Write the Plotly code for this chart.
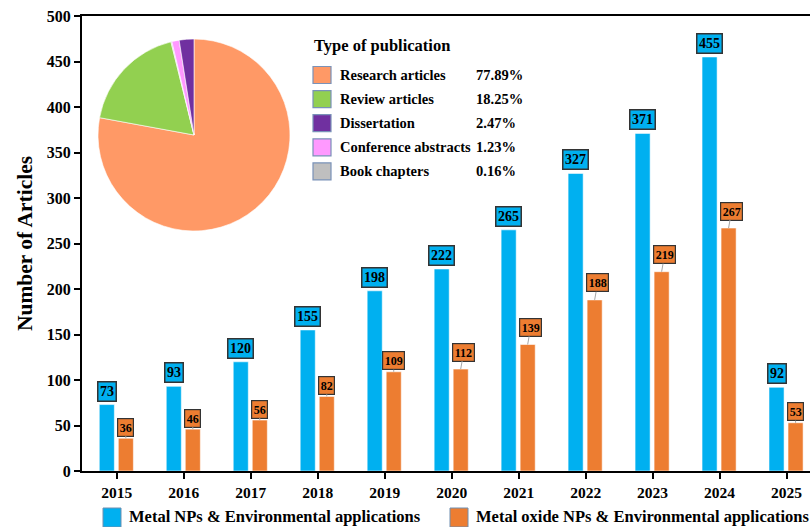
import plotly.graph_objects as go

# ---------------- data ----------------
years = ["2015", "2016", "2017", "2018", "2019", "2020", "2021", "2022", "2023", "2024", "2025"]
metal_np = [73, 93, 120, 155, 198, 222, 265, 327, 371, 455, 92]
metal_oxide_np = [36, 46, 56, 82, 109, 112, 139, 188, 219, 267, 53]
series_names = ["Metal NPs & Environmental applications",
                "Metal oxide NPs & Environmental applications"]

pub_types = ["Research articles", "Review articles", "Dissertation",
             "Conference abstracts", "Book chapters"]
pub_pct = [77.89, 18.25, 2.47, 1.23, 0.16]

y_ticks = [0, 50, 100, 150, 200, 250, 300, 350, 400, 450, 500]

# ---------------- styling ----------------
SERIF = "Liberation Serif, Times New Roman, serif"
BLUE = "#00B0F0"
ORANGE = "#ED7D31"
pie_colors = {"Research articles": "#FF9966", "Review articles": "#92D050",
              "Dissertation": "#7030A0", "Conference abstracts": "#FF99FF",
              "Book chapters": "#BFBFBF"}
pie_draw_order = ["Research articles", "Review articles", "Book chapters",
                  "Conference abstracts", "Dissertation"]

W, H = 810, 527
ML, MR, MT, MB = 82, 0, 16, 56
PW, PH = W - ML - MR, H - MT - MB


def px_x(p):
    return (p - ML) / PW


def px_y(p):
    return (H - MB - p) / PH


BAR_W = 0.225
BLUE_OFF = -0.262
ORANGE_OFF = 0.022

fig = go.Figure()

fig.add_trace(go.Bar(
    x=years, y=metal_np, name=series_names[0], width=BAR_W, offset=BLUE_OFF,
    marker=dict(color=BLUE, line=dict(color="rgba(255,255,255,0.55)", width=1)),
    showlegend=False))
fig.add_trace(go.Bar(
    x=years, y=metal_oxide_np, name=series_names[1], width=BAR_W, offset=ORANGE_OFF,
    marker=dict(color=ORANGE, line=dict(color="rgba(255,255,255,0.55)", width=1)),
    showlegend=False))

# pie inset
pie_labels = pie_draw_order
pie_values = [pub_pct[pub_types.index(l)] for l in pie_labels]
fig.add_trace(go.Pie(
    labels=pie_labels, values=pie_values, sort=False, direction="clockwise",
    rotation=0, textinfo="none", hoverinfo="label+percent",
    marker=dict(colors=[pie_colors[l] for l in pie_labels],
                line=dict(color="white", width=0.6)),
    domain=dict(x=[px_x(98), px_x(290)], y=[px_y(231), px_y(39)]),
    showlegend=False))

annotations = []
# value labels
for i, (a, b) in enumerate(zip(metal_np, metal_oxide_np)):
    annotations.append(dict(
        x=i + BLUE_OFF + BAR_W / 2, y=a, xref="x", yref="y", text=str(a),
        showarrow=False, yanchor="bottom", yshift=3,
        bgcolor=BLUE, bordercolor="#333333", borderwidth=1.5, borderpad=1.5,
        font=dict(family=SERIF, size=14, color="black", weight="bold")))
    leader = 2020 <= int(years[i]) <= 2024
    annotations.append(dict(
        x=i + ORANGE_OFF + BAR_W / 2, y=b, xref="x", yref="y", text=str(b),
        showarrow=True, arrowhead=0, arrowwidth=1, arrowcolor="#A6A6A6",
        ax=3 if leader else 0, ay=-17 if leader else -11,
        bgcolor=ORANGE, bordercolor="#333333", borderwidth=1.2, borderpad=1.5,
        font=dict(family=SERIF, size=12, color="black", weight="bold")))

shapes = []
# pie legend (Type of publication)
annotations.append(dict(
    x=px_x(312), y=px_y(46), xref="paper", yref="paper", text="Type of publication",
    showarrow=False, xanchor="left", yanchor="middle",
    font=dict(family=SERIF, size=16.5, color="black", weight="bold")))
for k, (lab, pct) in enumerate(zip(pub_types, pub_pct)):
    cy = 75 + k * 24.1
    shapes.append(dict(type="rect", xref="paper", yref="paper",
                       x0=px_x(313), x1=px_x(331), y0=px_y(cy + 8.5), y1=px_y(cy - 8.5),
                       fillcolor=pie_colors[lab], line=dict(color="#7A92B8", width=1.2)))
    annotations.append(dict(
        x=px_x(338), y=px_y(cy), xref="paper", yref="paper", text=lab,
        showarrow=False, xanchor="left", yanchor="middle",
        font=dict(family=SERIF, size=14.5, color="black", weight="bold")))
    annotations.append(dict(
        x=px_x(474), y=px_y(cy), xref="paper", yref="paper", text=f"{pct:.2f}%",
        showarrow=False, xanchor="left", yanchor="middle",
        font=dict(family=SERIF, size=14.5, color="black", weight="bold")))

# bar legend (bottom)
for (sx, tx, col, name) in [(103, 127, BLUE, series_names[0]),
                            (450, 474, ORANGE, series_names[1])]:
    shapes.append(dict(type="rect", xref="paper", yref="paper",
                       x0=px_x(sx), x1=px_x(sx + 18), y0=px_y(527), y1=px_y(508),
                       fillcolor=col, line=dict(color="#6F8FB0", width=1)))
    annotations.append(dict(
        x=px_x(tx), y=px_y(516), xref="paper", yref="paper", text=name,
        showarrow=False, xanchor="left", yanchor="middle",
        font=dict(family=SERIF, size=16.5, color="black", weight="bold")))

fig.update_layout(
    template="none",
    width=W, height=H, margin=dict(l=ML, r=MR, t=MT, b=MB, autoexpand=False),
    paper_bgcolor="white", plot_bgcolor="white", barmode="overlay",
    font=dict(family=SERIF, color="black"),
    annotations=annotations, shapes=shapes,
    xaxis=dict(type="category", range=[-0.52, 10.35], showline=True, linecolor="black",
               linewidth=2, mirror=True, ticks="outside", ticklen=6, tickwidth=1.5,
               tickcolor="black", showgrid=False, zeroline=False, automargin=False,
               tickfont=dict(family=SERIF, size=15.5, color="black", weight="bold")),
    yaxis=dict(range=[0, 500], tickvals=y_ticks, showline=True, linecolor="black",
               linewidth=2, ticks="outside", ticklen=6, tickwidth=1.5, tickcolor="black",
               showgrid=False, zeroline=False, automargin=False,
               tickfont=dict(family=SERIF, size=16, color="black", weight="bold"),
               title=dict(text="Number of Articles", standoff=8,
                          font=dict(family=SERIF, size=21.5, color="black", weight="bold"))),
)

fig.write_html("out.html", config={"displayModeBar": False},
               post_script="document.body.style.margin='0';document.body.style.overflow='hidden';")
